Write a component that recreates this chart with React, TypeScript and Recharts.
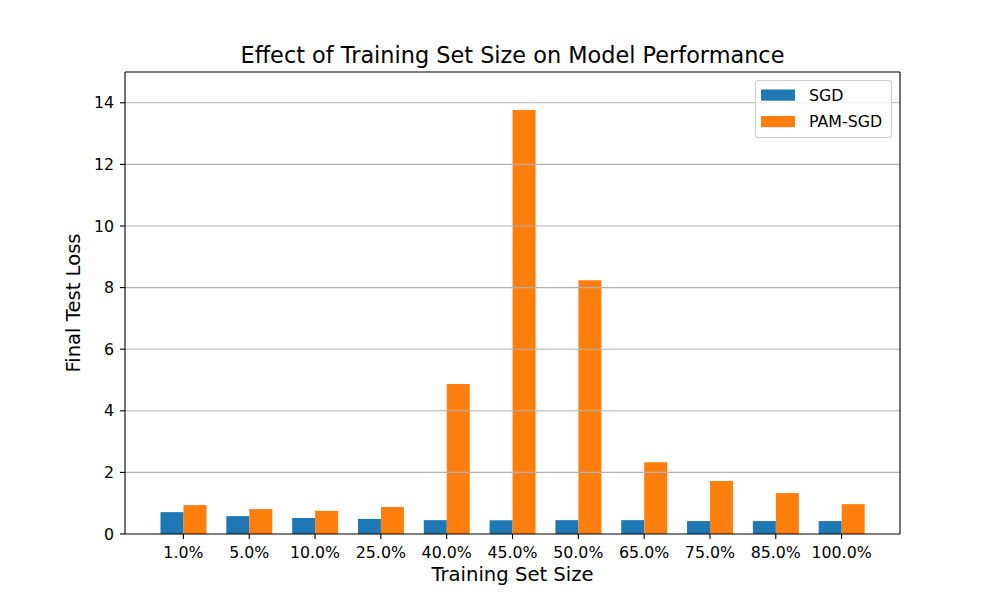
import React from 'react';
import { BarChart, Bar, XAxis, YAxis, ReferenceLine } from 'recharts';

const sizes = ['1.0%', '5.0%', '10.0%', '25.0%', '40.0%', '45.0%', '50.0%', '65.0%', '75.0%', '85.0%', '100.0%'];
const sgdLoss = [0.71, 0.58, 0.52, 0.49, 0.45, 0.45, 0.45, 0.45, 0.42, 0.42, 0.42];
const pamSgdLoss = [0.94, 0.81, 0.75, 0.875, 4.87, 13.77, 8.24, 2.33, 1.72, 1.33, 0.97];
const yTicks = [0, 2, 4, 6, 8, 10, 12, 14];

const seriesList = [
  { key: 'SGD', values: sgdLoss, color: '#1f77b4' },
  { key: 'PAM-SGD', values: pamSgdLoss, color: '#ff7f0e' },
];

const data = sizes.map((name, i) => ({ name, SGD: sgdLoss[i], 'PAM-SGD': pamSgdLoss[i] }));

const FONT = 'DejaVu Sans, sans-serif';
const TICK_FS = 15.8;

export default function App() {
  return (
    <div style={{ position: 'relative', width: 1000, height: 600, margin: '-8px 0 0 -8px', fontFamily: FONT, background: '#fff' }}>
      <BarChart
        width={1000}
        height={600}
        data={data}
        margin={{ top: 71, right: 99, bottom: 36, left: 65 }}
        barGap={0}
        barSize={23}
      >
        <XAxis
          dataKey="name"
          height={30}
          padding={{ left: 25.5, right: 25.5 }}
          tickSize={5}
          tickMargin={8}
          axisLine={{ stroke: '#000', strokeWidth: 1.1 }}
          tickLine={{ stroke: '#000', strokeWidth: 1.1 }}
          tick={{ fill: '#000', fontSize: TICK_FS, fontFamily: FONT }}
          interval={0}
        />
        <XAxis
          xAxisId="top"
          orientation="top"
          dataKey="name"
          height={1}
          padding={{ left: 25.5, right: 25.5 }}
          tick={false}
          tickLine={false}
          axisLine={{ stroke: '#000', strokeWidth: 1.1 }}
        />
        <YAxis
          width={60}
          domain={[0, 15]}
          ticks={yTicks}
          interval={0}
          tickSize={5}
          tickMargin={6}
          axisLine={{ stroke: '#000', strokeWidth: 1.1 }}
          tickLine={{ stroke: '#000', strokeWidth: 1.1 }}
          tick={{ fill: '#000', fontSize: TICK_FS, fontFamily: FONT }}
        />
        <YAxis
          yAxisId="right"
          orientation="right"
          width={1}
          domain={[0, 15]}
          tick={false}
          tickLine={false}
          axisLine={{ stroke: '#000', strokeWidth: 1.1 }}
        />
        {seriesList.map((s) => (
          <Bar key={s.key} dataKey={s.key} fill={s.color} isAnimationActive={false} />
        ))}
        {yTicks.filter((t) => t > 0).map((t) => (
          <ReferenceLine key={t} y={t} stroke="#b0b0b0" strokeWidth={1.1} />
        ))}
      </BarChart>
      <svg
        width={1000}
        height={600}
        style={{ position: 'absolute', left: 0, top: 0, pointerEvents: 'none' }}
        fontFamily={FONT}
      >
        <text x={512.5} y={63.3} textAnchor="middle" fontSize={22.4} fill="#000">
          Effect of Training Set Size on Model Performance
        </text>
        <text x={512.5} y={581} textAnchor="middle" fontSize={19.6} fill="#000">
          Training Set Size
        </text>
        <text x={80} y={303} textAnchor="middle" fontSize={19.6} fill="#000" transform="rotate(-90, 80, 303)">
          Final Test Loss
        </text>
        <rect x={755.5} y={80.5} width={136} height={57} rx={3} ry={3} fill="#fff" fillOpacity={0.8} stroke="#cccccc" strokeWidth={1.1} />
        {seriesList.map((s, i) => (
          <g key={s.key}>
            <rect x={761} y={89.5 + i * 26.5} width={34} height={11.2} fill={s.color} />
            <text x={809} y={100.7 + i * 26} fontSize={TICK_FS} fill="#000">
              {s.key}
            </text>
          </g>
        ))}
      </svg>
    </div>
  );
}
